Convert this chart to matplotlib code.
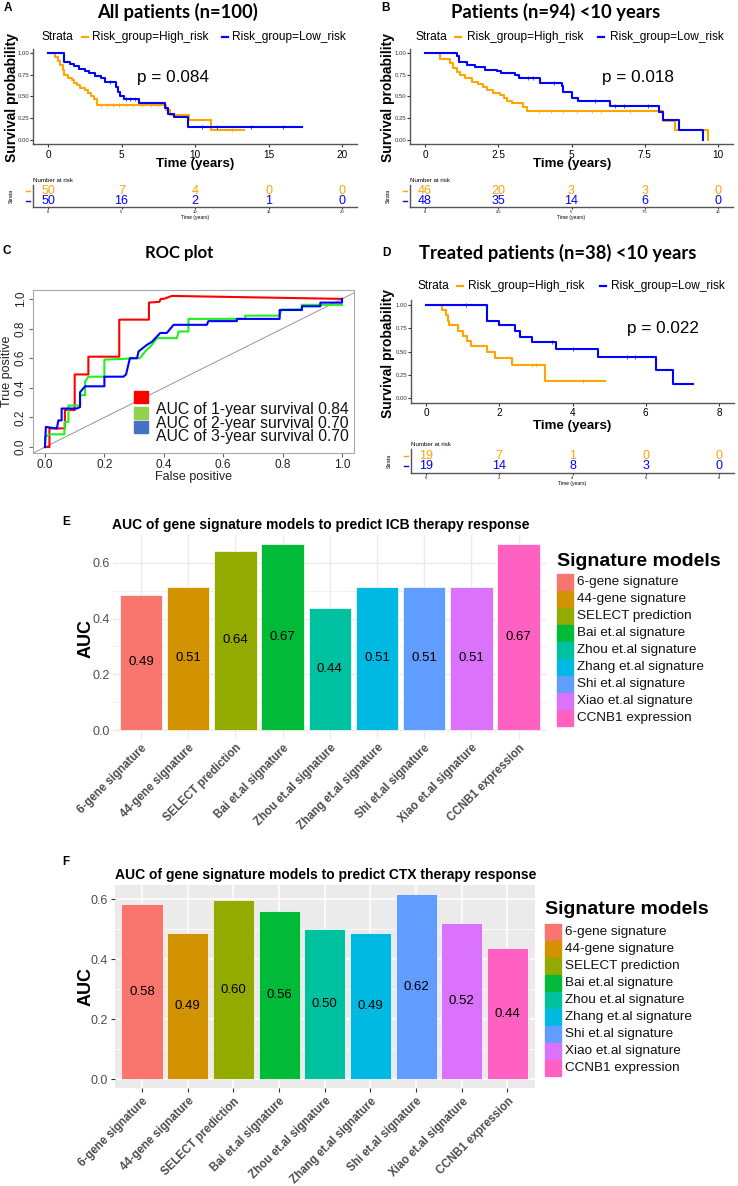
import numpy as np
import matplotlib
matplotlib.use("Agg")
import matplotlib.pyplot as plt
from matplotlib.patches import Rectangle
from matplotlib.lines import Line2D

W, H = 738, 1186
plt.rcParams['font.family'] = ['Liberation Sans', 'DejaVu Sans']
NARROW = ['Liberation Sans Narrow', 'Liberation Sans', 'DejaVu Sans']
TITLE_FONT = ['Lato', 'Liberation Sans', 'DejaVu Sans']

ORANGE = '#FFA500'
BLUE = '#0000FF'

# ---------------- data: Kaplan-Meier curves ----------------
a_high_t = [0, 0.45, 0.65, 0.85, 1.0, 1.1, 1.35, 1.6, 1.75, 1.95, 2.15, 2.5, 2.7, 2.9, 3.1, 3.3, 8.0, 8.3, 9.6, 11.1, 13.3]
a_high_s = [1.0, 0.95, 0.91, 0.86, 0.81, 0.75, 0.71, 0.69, 0.65, 0.63, 0.60, 0.57, 0.54, 0.50, 0.47, 0.40, 0.35, 0.29, 0.23, 0.115, 0.115]
a_low_t = [0, 1.1, 1.5, 1.8, 2.1, 2.5, 2.8, 3.2, 3.6, 3.9, 4.6, 4.75, 4.9, 5.2, 6.2, 7.95, 8.15, 8.6, 9.5, 17.3]
a_low_s = [1.0, 0.90, 0.87, 0.85, 0.82, 0.79, 0.77, 0.74, 0.71, 0.67, 0.61, 0.555, 0.50, 0.475, 0.43, 0.37, 0.30, 0.26, 0.155, 0.155]
a_high_cens = [3.6, 4.0, 4.4, 4.8, 5.3, 5.8, 6.4, 7.0, 7.5, 12.5]
a_low_cens = [4.2, 5.3, 5.6, 5.9, 10.5, 11.5, 13.8, 16.0]

b_high_t = [0, 0.51, 0.85, 0.97, 1.08, 1.2, 1.36, 1.6, 1.82, 1.98, 2.12, 2.33, 2.56, 2.68, 2.8, 2.96, 3.36, 3.47, 8.13, 8.52, 9.66]
b_high_s = [1.0, 0.935, 0.89, 0.83, 0.78, 0.75, 0.71, 0.67, 0.64, 0.61, 0.57, 0.54, 0.52, 0.485, 0.45, 0.42, 0.38, 0.33, 0.22, 0.11, 0.0]
b_low_t = [0, 1.08, 1.15, 1.42, 1.7, 2.05, 2.45, 2.6, 3.07, 3.2, 3.93, 4.66, 4.72, 5.0, 5.23, 6.31, 7.99, 8.13, 8.67, 9.49]
b_low_s = [1.0, 0.96, 0.90, 0.86, 0.84, 0.81, 0.79, 0.77, 0.745, 0.715, 0.66, 0.62, 0.55, 0.485, 0.45, 0.39, 0.32, 0.235, 0.115, 0.0]
b_high_cens = [3.9, 4.3, 4.7, 5.2, 5.7, 6.0, 7.0]
b_low_cens = [3.5, 3.7, 4.4, 5.8, 6.5, 6.8, 7.6]

d_high_t = [0, 0.43, 0.54, 0.6, 0.64, 0.88, 1.0, 1.11, 1.22, 1.67, 1.88, 2.34, 3.25, 4.88]
d_high_s = [1.0, 0.95, 0.89, 0.83, 0.78, 0.72, 0.67, 0.61, 0.56, 0.50, 0.43, 0.36, 0.18, 0.18]
d_low_t = [0, 1.67, 2.0, 2.43, 2.58, 2.9, 3.55, 4.7, 6.29, 6.75, 7.3]
d_low_s = [1.0, 0.83, 0.78, 0.72, 0.66, 0.60, 0.53, 0.445, 0.30, 0.15, 0.15]
d_high_cens = [2.9, 3.0, 4.3]
d_low_cens = [1.1, 3.45, 4.0, 5.5, 5.7]

# number at risk
a_risk_t = [0, 5, 10, 15, 20]
a_risk_high = [50, 7, 4, 0, 0]
a_risk_low = [50, 16, 2, 1, 0]
b_risk_t = [0, 2.5, 5, 7.5, 10]
b_risk_high = [46, 20, 3, 3, 0]
b_risk_low = [48, 35, 14, 6, 0]
d_risk_t = [0, 2, 4, 6, 8]
d_risk_high = [19, 7, 1, 0, 0]
d_risk_low = [19, 14, 8, 3, 0]

# ---------------- data: ROC curves ----------------
roc1_fpr = [0.0, 0.015, 0.015, 0.067, 0.067, 0.10, 0.10, 0.146, 0.146, 0.25, 0.25, 0.35, 0.35, 0.385, 0.39, 0.40, 0.427, 1.0]
roc1_tpr = [0.0, 0.0, 0.126, 0.126, 0.25, 0.25, 0.49, 0.49, 0.61, 0.61, 0.86, 0.86, 0.975, 0.98, 1.0, 1.0, 1.02, 1.0]
roc2_fpr = [0.0, 0.0, 0.017, 0.065, 0.067, 0.079, 0.079, 0.118, 0.118, 0.135, 0.135, 0.146, 0.2, 0.2, 0.32, 0.337,
            0.36, 0.376, 0.444, 0.45, 0.483, 0.483, 0.674, 0.674, 0.79, 0.796, 0.865, 0.865, 1.0]
roc2_tpr = [0.0, 0.07, 0.086, 0.086, 0.17, 0.17, 0.28, 0.28, 0.35, 0.35, 0.44, 0.475, 0.475, 0.59, 0.60, 0.645,
            0.69, 0.735, 0.735, 0.78, 0.78, 0.865, 0.865, 0.887, 0.887, 0.928, 0.93, 0.96, 0.96]
roc3_fpr = [0.0, 0.003, 0.04, 0.045, 0.056, 0.056, 0.107, 0.118, 0.118, 0.135, 0.2, 0.2, 0.264, 0.273, 0.28, 0.286,
            0.31, 0.315, 0.343, 0.36, 0.388, 0.41, 0.433, 0.545, 0.55, 0.646, 0.646, 0.79, 0.79, 0.865, 0.865,
            0.927, 0.927, 1.0, 1.0]
roc3_tpr = [0.0, 0.136, 0.125, 0.18, 0.18, 0.26, 0.26, 0.27, 0.37, 0.41, 0.41, 0.475, 0.475, 0.49, 0.55, 0.60,
            0.60, 0.645, 0.69, 0.71, 0.77, 0.77, 0.825, 0.825, 0.85, 0.85, 0.865, 0.865, 0.925, 0.925, 0.95,
            0.95, 0.975, 0.975, 1.0]
roc_labels = ['AUC of 1-year survival 0.84', 'AUC of 2-year survival 0.70', 'AUC of 3-year survival 0.70']

# ---------------- data: AUC bar charts ----------------
sig_models = ['6-gene signature', '44-gene signature', 'SELECT prediction', 'Bai et.al signature',
              'Zhou et.al signature', 'Zhang et.al signature', 'Shi et.al signature', 'Xiao et.al signature',
              'CCNB1 expression']
sig_colors = ['#F8766D', '#D39200', '#93AA00', '#00BA38', '#00C19F', '#00B9E3', '#619CFF', '#DB72FB', '#FF61C3']
auc_icb = [0.486, 0.514, 0.643, 0.667, 0.437, 0.514, 0.514, 0.514, 0.667]
auc_ctx = [0.583, 0.486, 0.597, 0.562, 0.500, 0.486, 0.618, 0.521, 0.437]

fig = plt.figure(figsize=(W / 100, H / 100), dpi=100)


def rect(l, t, r, b):
    return [l / W, 1 - b / H, (r - l) / W, (b - t) / H]


def ftext(x, y, s, **kw):
    kw.setdefault('ha', 'left')
    kw.setdefault('va', 'center')
    return fig.text(x / W, 1 - y / H, s, **kw)


def fline(x0, x1, y, color, lw=1.6):
    fig.add_artist(Line2D([x0 / W, x1 / W], [1 - y / H, 1 - y / H], color=color, lw=lw,
                          transform=fig.transFigure))


def km_panel(cfg):
    ftext(*cfg['letter_xy'], cfg['letter'], fontsize=8.5, fontweight='bold', ha='center')
    ftext(*cfg['title_xy'], cfg['title'], fontsize=13.2, fontweight='bold', ha='center', family=TITLE_FONT)
    # legend row
    lx, ly = cfg['legend_x'], cfg['legend_y']
    ftext(lx[0], ly, 'Strata', fontsize=8.6)
    fline(lx[1], lx[1] + 6, ly, ORANGE)
    ftext(lx[2], ly, 'Risk_group=High_risk', fontsize=8.6)
    fline(lx[3], lx[3] + 6, ly, BLUE)
    ftext(lx[4], ly, 'Risk_group=Low_risk', fontsize=8.6)

    ax = fig.add_axes(rect(*cfg['ax_rect']))
    for (t, s, cens, col) in cfg['curves']:
        ax.step(t, s, where='post', color=col, lw=1.5, zorder=3)
        t_arr = np.asarray(t)
        cy = [s[np.searchsorted(t_arr, c, side='right') - 1] for c in cens]
        ax.plot(cens, cy, ls='none', marker='+', ms=2.5, mew=0.5, color=col, zorder=3)
    ax.set_xlim(*cfg['xlim'])
    ax.set_ylim(-0.05, 1.05)
    ax.set_xticks(cfg['xticks'])
    ax.set_xticklabels(cfg['xticklabels'])
    ax.set_yticks([0, 0.25, 0.5, 0.75, 1.0])
    ax.set_yticklabels(['0.00', '0.25', '0.50', '0.75', '1.00'])
    ax.tick_params(axis='x', labelsize=7.2, length=2, pad=2, color='#333333')
    ax.tick_params(axis='y', labelsize=4.3, length=2, pad=1, color='#333333', labelcolor='#333333')
    for side in ['top', 'right']:
        ax.spines[side].set_visible(False)
    for side in ['left', 'bottom']:
        ax.spines[side].set_color('#555555')
        ax.spines[side].set_linewidth(1.0)
    ax.text(cfg['pval_xy'][0], cfg['pval_xy'][1], cfg['pval'], fontsize=12.3, ha='left', va='center')

    ftext(*cfg['ylab_xy'], 'Survival probability', fontsize=10, fontweight='bold', rotation=90, ha='center')
    ftext(*cfg['xlab_xy'], 'Time (years)', fontsize=9.6, fontweight='bold', ha='center')

    # risk table
    tx = fig.add_axes(rect(*cfg['tab_rect']))
    for t, n in zip(cfg['risk_t'], cfg['risk_high']):
        tx.text(t, 2, str(n), color=ORANGE, fontsize=9, ha='center', va='center')
    for t, n in zip(cfg['risk_t'], cfg['risk_low']):
        tx.text(t, 1, str(n), color=BLUE, fontsize=9, ha='center', va='center')
    tx.set_xlim(*cfg['xlim'])
    tx.set_ylim(0.4, 2.6)
    tx.set_yticks([])
    tx.set_xticks(cfg['xticks'])
    tx.set_xticklabels(cfg['xticklabels'])
    tx.tick_params(axis='x', labelsize=3, length=1.5, pad=1, color='#333333')
    tx.set_xlabel('Time (years)', fontsize=3.6, labelpad=0.5)
    for side in ['top', 'right']:
        tx.spines[side].set_visible(False)
    for side in ['left', 'bottom']:
        tx.spines[side].set_color('#555555')
        tx.spines[side].set_linewidth(1.0)
    l, t_, r, b = cfg['tab_rect']
    ftext(l, t_ - 5, 'Number at risk', fontsize=4.4)
    ftext(l - 22, (t_ + b) / 2, 'Strata', fontsize=3.8, rotation=90, ha='center')
    row_hi = b - (2 - 0.4) / 2.2 * (b - t_)
    row_lo = b - (1 - 0.4) / 2.2 * (b - t_)
    fline(l - 7, l - 3, row_hi, ORANGE, lw=1.0)
    fline(l - 7, l - 3, row_lo, BLUE, lw=1.0)


km_panel(dict(letter='A', letter_xy=(8, 8), title='All patients (n=100)', title_xy=(177, 12),
              legend_y=37, legend_x=(42, 82, 92, 222, 232),
              ax_rect=(33.3, 48.65, 356.7, 144.35), xlim=(-1, 21), xticks=a_risk_t,
              xticklabels=['0', '5', '10', '15', '20'],
              curves=[(a_high_t, a_high_s, a_high_cens, ORANGE), (a_low_t, a_low_s, a_low_cens, BLUE)],
              pval='p = 0.084', pval_xy=(6.05, 0.72), ylab_xy=(12, 97), xlab_xy=(195, 164),
              tab_rect=(33.3, 185, 356.7, 207), risk_t=a_risk_t, risk_high=a_risk_high, risk_low=a_risk_low))

km_panel(dict(letter='B', letter_xy=(385, 8), title='Patients (n=94) <10 years', title_xy=(556, 12),
              legend_y=37, legend_x=(415, 455, 467, 598, 610),
              ax_rect=(410.35, 48.65, 732.65, 144.35), xlim=(-0.5, 10.5), xticks=b_risk_t,
              xticklabels=['0', '2.5', '5', '7.5', '10'],
              curves=[(b_high_t, b_high_s, b_high_cens, ORANGE), (b_low_t, b_low_s, b_low_cens, BLUE)],
              pval='p = 0.018', pval_xy=(6.04, 0.72), ylab_xy=(388, 97), xlab_xy=(572, 164),
              tab_rect=(410.35, 185, 732.65, 207), risk_t=b_risk_t, risk_high=b_risk_high, risk_low=b_risk_low))

km_panel(dict(letter='D', letter_xy=(386, 253), title='Treated patients (n=38) <10 years', title_xy=(558, 253),
              legend_y=286, legend_x=(417, 457, 468, 600, 611),
              ax_rect=(411.35, 300.35, 733.65, 402.65), xlim=(-0.4, 8.4), xticks=d_risk_t,
              xticklabels=['0', '2', '4', '6', '8'],
              curves=[(d_high_t, d_high_s, d_high_cens, ORANGE), (d_low_t, d_low_s, d_low_cens, BLUE)],
              pval='p = 0.022', pval_xy=(5.5, 0.75), ylab_xy=(388, 353), xlab_xy=(572, 426),
              tab_rect=(411.35, 449, 733.65, 473), risk_t=d_risk_t, risk_high=d_risk_high, risk_low=d_risk_low))

# ---------------- C: ROC plot ----------------
ftext(7, 251, 'C', fontsize=8.5, fontweight='bold', ha='center')
ftext(179, 253, 'ROC plot', fontsize=12, fontweight='bold', ha='center', family=TITLE_FONT)
ax = fig.add_axes(rect(33.1, 290, 353.9, 453))
ax.axline((0, 0), (1, 1), color='#888888', lw=0.6)
ax.plot(roc1_fpr, roc1_tpr, color='#FF0000', lw=1.5)
ax.plot(roc2_fpr, roc2_tpr, color='#22EE22', lw=1.5)
ax.plot(roc3_fpr, roc3_tpr, color='#0000FF', lw=1.5)
ax.set_xlim(-0.04, 1.04)
ax.set_ylim(-0.04, 1.06)
ax.set_xticks([0, 0.2, 0.4, 0.6, 0.8, 1.0])
ax.set_yticks([0, 0.2, 0.4, 0.6, 0.8, 1.0])
ax.set_xticklabels(['0.0', '0.2', '0.4', '0.6', '0.8', '1.0'])
ax.set_yticklabels(['0.0', '0.2', '0.4', '0.6', '0.8', '1.0'], rotation=90, va='center')
ax.tick_params(labelsize=8.5, length=3, color='#666666', labelcolor='#222222', pad=1.5)
for sp in ax.spines.values():
    sp.set_color('#aaaaaa')
    sp.set_linewidth(0.8)
ax.set_xlabel('False positive', fontsize=9, labelpad=0, color='#222222')
ax.set_ylabel('True positive', fontsize=9, labelpad=1, color='#222222')
for (y0, col) in [(391, '#FF0000'), (407, '#92D050'), (421, '#4472C4')]:
    fig.add_artist(Rectangle((134 / W, 1 - (y0 + 12) / H), 14 / W, 12 / H, color=col,
                             transform=fig.transFigure))
for yy, lab in zip([409, 423, 437], roc_labels):
    ftext(156, yy, lab, fontsize=11.3, color='#111111')


# ---------------- E / F: AUC bar charts ----------------
def bar_panel(cfg, vals):
    ax = fig.add_axes(rect(*cfg['ax_rect']))
    x = np.arange(1, len(vals) + 1)
    top = max(vals)
    if cfg['gray']:
        ax.set_facecolor('#EBEBEB')
        gcol, glw_major, glw_minor = 'white', 1.1, 0.55
    else:
        ax.set_facecolor('white')
        gcol, glw_major, glw_minor = '#EBEBEB', 1.0, 0.5
    ax.bar(x, vals, width=0.9, color=sig_colors, edgecolor='white', linewidth=0.5, zorder=3)
    for xi, v in zip(x, vals):
        ax.text(xi, v / 2, f'{v:.2f}', ha='center', va='center', fontsize=9.5, family=NARROW, zorder=4)
    ax.set_xlim(0.4, len(vals) + 0.6)
    ax.set_ylim(-0.05 * top, 1.05 * top)
    ax.set_yticks([0, 0.2, 0.4, 0.6])
    ax.set_yticklabels(['0.0', '0.2', '0.4', '0.6'], family=NARROW)
    ax.set_yticks([0.1, 0.3, 0.5], minor=True)
    ax.set_xticks(x)
    ax.set_xticklabels(sig_models, rotation=45, ha='right', rotation_mode='anchor',
                       fontsize=8.3, fontweight='bold', color='#4D4D4D')
    ax.grid(True, which='major', color=gcol, lw=glw_major, zorder=0)
    ax.grid(True, which='minor', axis='y', color=gcol, lw=glw_minor, zorder=0)
    ax.set_axisbelow(True)
    for sp in ax.spines.values():
        sp.set_visible(False)
    tick_len = 3 if cfg['gray'] else 0
    ax.tick_params(axis='both', which='major', length=tick_len, color='#333333', pad=2)
    ax.tick_params(axis='y', labelsize=9, labelcolor='#4D4D4D')
    ax.tick_params(which='minor', length=0)

    ftext(*cfg['letter_xy'], cfg['letter'], fontsize=8.5, fontweight='bold', ha='center')
    ftext(cfg['title_xy'][0], cfg['title_xy'][1], cfg['title'], fontsize=10, fontweight='bold',
          family=NARROW)
    ftext(*cfg['ylab_xy'], 'AUC', fontsize=13, fontweight='bold', rotation=90, ha='center')
    lx, ly = cfg['leg_xy']
    ftext(lx, ly, 'Signature models', fontsize=14, fontweight='bold', family=NARROW)
    for i, (name, col) in enumerate(zip(sig_models, sig_colors)):
        yc = cfg['leg_row0'] + 17 * i
        fig.add_artist(Rectangle((lx / W, 1 - (yc + 8) / H), 16 / W, 16 / H, color=col,
                                 transform=fig.transFigure))
        ftext(lx + 20, yc, name, fontsize=9.7, family=NARROW, color='#111111')


bar_panel(dict(letter='E', letter_xy=(66, 522), title='AUC of gene signature models to predict ICB therapy response',
               title_xy=(112, 525), ax_rect=(112.7, 534.8, 546.9, 739.3), gray=False,
               ylab_xy=(86, 638), leg_xy=(557, 561), leg_row0=582), auc_icb)

bar_panel(dict(letter='F', letter_xy=(66, 862), title='AUC of gene signature models to predict CTX therapy response',
               title_xy=(115, 875), ax_rect=(114.6, 884.7, 534.9, 1088.3), gray=True,
               ylab_xy=(86, 987), leg_xy=(545, 910), leg_row0=932), auc_ctx)

fig.savefig('out.png', dpi=100)
